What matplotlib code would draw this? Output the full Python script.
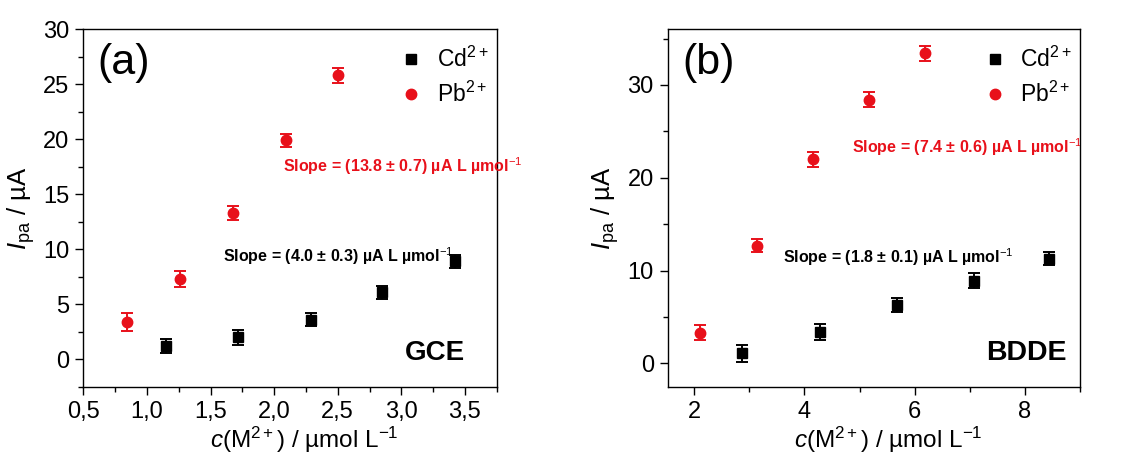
import matplotlib
matplotlib.use("Agg")
import matplotlib.pyplot as plt
from matplotlib.ticker import MultipleLocator, FuncFormatter
from matplotlib.lines import Line2D

plt.rcParams['font.family'] = ['Liberation Sans', 'DejaVu Sans']
plt.rcParams['mathtext.fontset'] = 'custom'
plt.rcParams['mathtext.rm'] = 'Liberation Sans'
plt.rcParams['mathtext.it'] = 'Liberation Sans:italic'
plt.rcParams['mathtext.bf'] = 'Liberation Sans:bold'

# Panel (a) GCE
a_cd_x = [1.15, 1.72, 2.29, 2.85, 3.42]
a_cd_y = [1.2, 2.0, 3.6, 6.1, 8.9]
a_cd_err = [0.6, 0.7, 0.6, 0.6, 0.6]
a_pb_x = [0.84, 1.26, 1.68, 2.09, 2.50]
a_pb_y = [3.4, 7.3, 13.3, 19.9, 25.8]
a_pb_err = [0.8, 0.7, 0.6, 0.6, 0.7]

# Panel (b) BDDE
b_cd_x = [2.86, 4.28, 5.68, 7.07, 8.44]
b_cd_y = [1.1, 3.4, 6.3, 8.9, 11.3]
b_cd_err = [0.9, 0.9, 0.8, 0.8, 0.7]
b_pb_x = [2.10, 3.14, 4.16, 5.18, 6.19]
b_pb_y = [3.3, 12.7, 22.0, 28.4, 33.4]
b_pb_err = [0.8, 0.7, 0.8, 0.8, 0.8]

series_labels = ['Cd$^{2+}$', 'Pb$^{2+}$']
a_slopes = ['Slope = (4.0 ± 0.3) µA L µmol$^{-1}$', 'Slope = (13.8 ± 0.7) µA L µmol$^{-1}$']
b_slopes = ['Slope = (1.8 ± 0.1) µA L µmol$^{-1}$', 'Slope = (7.4 ± 0.6) µA L µmol$^{-1}$']

W, H = 1121, 454
fig = plt.figure(figsize=(W / 100, H / 100), dpi=100)

def px(x0, y0, x1, y1):
    return [x0 / W, 1 - y1 / H, (x1 - x0) / W, (y1 - y0) / H]

axa = fig.add_axes(px(83.3, 29.3, 496.7, 386.7))
axb = fig.add_axes(px(667.7, 29.3, 1080, 386.7))

red = '#e8101a'

def draw(ax, cdx, cdy, cde, pbx, pby, pbe):
    ax.errorbar(cdx, cdy, yerr=cde, fmt='s', color='black', ms=7, capsize=4,
                elinewidth=1.4, capthick=1.4)
    ax.errorbar(pbx, pby, yerr=pbe, fmt='o', color=red, ms=7.5, capsize=4,
                elinewidth=1.4, capthick=1.4)
    for s in ax.spines.values():
        s.set_linewidth(1.0)
    ax.tick_params(which='both', direction='out', top=False, right=False, labelsize=17, pad=4)
    ax.tick_params(which='major', length=6, width=1)
    ax.tick_params(which='minor', length=3.5, width=1)
    ax.set_xlabel('$\\it{c}$(M$^{2+}$) / µmol L$^{-1}$', fontsize=17.5)
    ax.set_ylabel('$\\it{I}_{\\rm pa}$ / µA', fontsize=18.5)
    ax.xaxis.set_label_coords(0.534, -0.106)
    handles = [Line2D([], [], ls='none', marker='s', color='black', ms=7),
               Line2D([], [], ls='none', marker='o', color=red, ms=7.5)]
    ax.legend(handles, series_labels, loc='upper right', fontsize=16.5, frameon=False,
              handletextpad=0.5, borderaxespad=0.3, labelspacing=0.4, handlelength=1.2,
              bbox_to_anchor=(1.018, 0.995))

# Panel a
draw(axa, a_cd_x, a_cd_y, a_cd_err, a_pb_x, a_pb_y, a_pb_err)
axa.set_xlim(0.5, 3.75)
axa.set_ylim(-2.5, 30)
axa.xaxis.set_major_locator(MultipleLocator(0.5))
axa.xaxis.set_minor_locator(MultipleLocator(0.25))
axa.yaxis.set_major_locator(MultipleLocator(5))
axa.yaxis.set_minor_locator(MultipleLocator(2.5))
axa.xaxis.set_major_formatter(FuncFormatter(lambda v, p: f'{v:.1f}'.replace('.', ',')))
axa.text(0.035, 0.905, '(a)', transform=axa.transAxes, fontsize=31, va='center', ha='left')
axa.text(2.07, 17.6, a_slopes[1], color=red, fontsize=11.5, fontweight='bold', va='center', clip_on=False)
axa.text(1.60, 9.4, a_slopes[0], color='black', fontsize=11.5, fontweight='bold', va='center')
axa.text(0.923, 0.094, 'GCE', transform=axa.transAxes, fontsize=20, fontweight='bold', ha='right', va='center')
axa.yaxis.set_label_coords(-0.112, 0.5)

# Panel b
draw(axb, b_cd_x, b_cd_y, b_cd_err, b_pb_x, b_pb_y, b_pb_err)
axb.set_xlim(1.52, 9.0)
axb.set_ylim(-2.5, 36)
axb.xaxis.set_major_locator(MultipleLocator(2))
axb.xaxis.set_minor_locator(MultipleLocator(1))
axb.yaxis.set_major_locator(MultipleLocator(10))
axb.yaxis.set_minor_locator(MultipleLocator(5))
axb.text(0.035, 0.905, '(b)', transform=axb.transAxes, fontsize=31, va='center', ha='left')
axb.text(4.87, 23.3, b_slopes[1], color=red, fontsize=11.5, fontweight='bold', va='center', clip_on=True)
axb.text(3.62, 11.45, b_slopes[0], color='black', fontsize=11.5, fontweight='bold', va='center')
axb.text(0.968, 0.094, 'BDDE', transform=axb.transAxes, fontsize=20.5, fontweight='bold', ha='right', va='center')
axb.yaxis.set_label_coords(-0.113, 0.5)

fig.savefig('out.png', dpi=100)
